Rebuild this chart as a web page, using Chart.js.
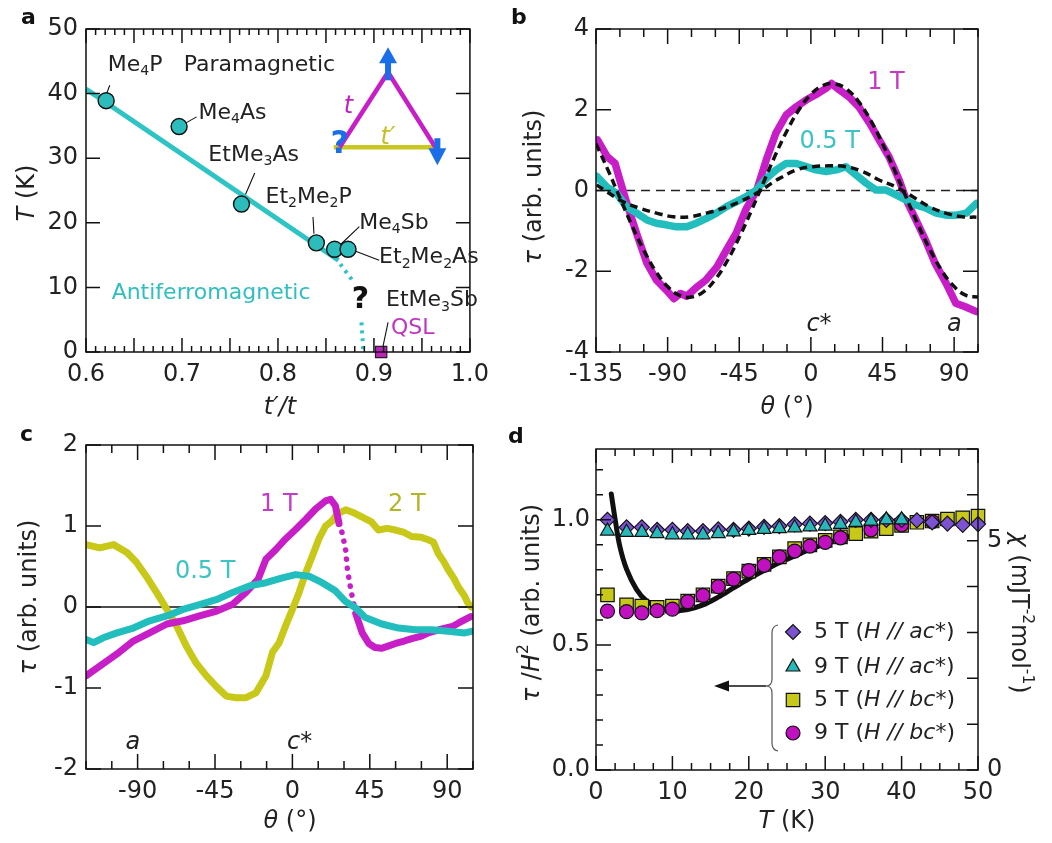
<!DOCTYPE html>
<html><head><meta charset="utf-8">
<script src="https://cdn.jsdelivr.net/npm/chart.js@4.4.0/dist/chart.umd.min.js"></script>
<style>
html,body{margin:0;padding:0;background:#fff;}
body{width:1052px;height:843px;position:relative;overflow:hidden;}
canvas{position:absolute;}
</style></head><body>
<canvas id="ca" width="500" height="421" style="left:0;top:0"></canvas>
<canvas id="cb" width="552" height="421" style="left:500px;top:0"></canvas>
<canvas id="cc" width="500" height="422" style="left:0;top:421px"></canvas>
<canvas id="cd" width="552" height="422" style="left:500px;top:421px"></canvas>
<script>
// ================= DATA =================
// Panel a : phase diagram
const aSaltNames = ['Me_{4}P', 'Me_{4}As', 'EtMe_{3}As', 'Et_{2}Me_{2}P', 'Me_{4}Sb', 'Et_{2}Me_{2}As'];
const aRatio = [0.621, 0.697, 0.762, 0.840, 0.859, 0.873];
const aTN = [38.9, 34.9, 22.9, 16.9, 15.9, 15.9];
const aQslRatio = [0.9075];
const aQslT = [0];
const aLineRatio = [0.600, 0.863];
const aLineT = [40.7, 14.2];
const aDot1Ratio = [0.865, 0.878];
const aDot1T = [13.6, 11.0];
const aDot2Ratio = [0.887, 0.889];
const aDot2T = [4.6, 0];
const aXTicks = [0.6, 0.7, 0.8, 0.9, 1.0];
const aYTicks = [0, 10, 20, 30, 40, 50];

// Panel b : torque curves, tau vs theta
const b1Theta = [-134,-128,-123,-120,-115,-109.5,-103,-97,-91,-86,-82,-78,-72,-66,-59,-53,-47,-41,-34,-28,-22,-15.5,-9,-3,3,9.5,13,18,24,30,37,43,49,55.5,60,66,72,78,85,91,97,104];
const b1Tau = [1.25,0.84,0.67,0.26,-0.40,-1.06,-1.80,-2.22,-2.46,-2.68,-2.55,-2.62,-2.40,-2.22,-1.89,-1.47,-1.06,-0.48,0.01,0.76,1.42,1.87,2.08,2.24,2.37,2.53,2.65,2.49,2.32,2.08,1.66,1.25,0.84,0.26,-0.24,-0.73,-1.23,-1.80,-2.30,-2.79,-2.88,-3.0];
const b05Theta = [-134.5,-128.3,-122,-116,-109.5,-103,-97,-91,-84.4,-78,-72,-65.6,-59.4,-53,-47,-40.6,-34.3,-28,-21.8,-15.5,-9.2,-3,3.3,9.6,16,22,28.5,34.8,41,47.3,53.6,60,66,72.5,78.8,85,91.4,97.7,104];
const b05Tau = [0.35,0.09,-0.07,-0.40,-0.56,-0.73,-0.81,-0.85,-0.90,-0.90,-0.81,-0.69,-0.56,-0.40,-0.28,-0.15,0.01,0.30,0.51,0.67,0.67,0.59,0.51,0.47,0.51,0.59,0.38,0.18,0.01,0.01,-0.11,-0.24,-0.36,-0.44,-0.56,-0.61,-0.61,-0.56,-0.32];
const bFit1Theta = [-135,-127.5,-120,-112.5,-105,-97.5,-90,-82.5,-75,-67.5,-60,-52.5,-45,-37.5,-30,-22.5,-15,-7.5,0,7.5,15,22.5,30,37.5,45,52.5,60,67.5,75,82.5,90,97.5,105];
const bFit1Tau = [1.16,0.51,-0.18,-0.86,-1.48,-2.00,-2.38,-2.60,-2.64,-2.51,-2.20,-1.74,-1.16,-0.51,0.18,0.86,1.48,2.00,2.38,2.60,2.64,2.51,2.20,1.74,1.16,0.51,-0.18,-0.86,-1.48,-2.00,-2.38,-2.60,-2.64];
const bFit05Theta = [-134.6,-128.3,-117.9,-107.4,-97,-86.6,-76.1,-65.6,-55.2,-44.8,-34.3,-23.9,-19.7,-9.2,1.2,11.6,22.1,32.5,42.9,53.4,63.8,74.3,84.7,95.1,104];
const bFit05Tau = [0.14,-0.03,-0.28,-0.44,-0.56,-0.65,-0.65,-0.56,-0.44,-0.28,-0.07,0.20,0.30,0.51,0.59,0.61,0.59,0.47,0.26,0.09,-0.15,-0.40,-0.56,-0.65,-0.66];
const bXTicks = [-135, -90, -45, 0, 45, 90];
const bYTicks = [-4, -2, 0, 2, 4];

// Panel c : torque curves at three fields
const c2Theta = [-120,-112,-104,-96,-90.6,-85,-79,-73,-67.4,-61.7,-56,-50,-44.3,-38.5,-32.8,-27,-21.2,-15.4,-11.6,-7.7,-3.9,0,3.9,7.7,11.6,15.4,19.3,23,26,31,36,40.6,46,50,55,60,65,69.4,75,79,82,84.8,88,90.6,94,96.4,100,102,104];
const c2Tau = [0.77,0.73,0.77,0.67,0.55,0.38,0.18,-0.03,-0.23,-0.48,-0.69,-0.85,-0.98,-1.10,-1.12,-1.12,-1.06,-0.85,-0.56,-0.44,-0.23,-0.03,0.18,0.42,0.63,0.84,1.00,1.06,1.15,1.20,1.16,1.11,1.05,0.95,0.97,0.95,0.92,0.87,0.86,0.83,0.80,0.66,0.56,0.46,0.35,0.25,0.14,0.05,0.0];
const c1Theta = [-120,-112,-102,-92.5,-83,-73,-63.6,-54,-44,-35,-27,-20,-15.4,-9.6,-4,2,7.7,13.5,19.3,22.2,25,27.1,29,31,32,34,36.8,40.6,44.4,48,52,56,60,65,69.4,75,79,84,88.7,93,96.4,100,103.5];
const c1Tau = [-0.85,-0.73,-0.58,-0.42,-0.32,-0.21,-0.17,-0.11,-0.05,0.03,0.18,0.34,0.59,0.71,0.84,0.96,1.08,1.21,1.31,1.33,1.25,1.03,0.91,0.70,0.46,0.21,-0.08,-0.32,-0.45,-0.50,-0.51,-0.48,-0.45,-0.42,-0.39,-0.36,-0.32,-0.29,-0.26,-0.24,-0.20,-0.16,-0.12];
const c05Theta = [-120,-115.6,-110,-102,-92.5,-83,-73,-63.6,-54,-44.3,-34.7,-25,-15.4,-5.8,1.9,9.6,17.3,25,30.8,36.6,42.4,52,61.7,71.3,80.9,90.6,100.2,104];
const c05Tau = [-0.40,-0.44,-0.38,-0.32,-0.26,-0.17,-0.11,-0.03,0.03,0.09,0.18,0.26,0.30,0.36,0.40,0.38,0.30,0.20,0.07,-0.01,-0.13,-0.21,-0.26,-0.28,-0.28,-0.30,-0.32,-0.30];
const cXTicks = [-90, -45, 0, 45, 90];
const cYTicks = [-2, -1, 0, 1, 2];

// Panel d : tau/H^2 vs T and chi (right axis)
const dT = [1.5,4,6,8,10,12,14,16,18,20,22,24,26,28,30,32,34,36,38,40,42,44,46,48,50];
const d5ac = [1.00,0.97,0.97,0.96,0.96,0.955,0.955,0.962,0.96,0.965,0.972,0.975,0.982,0.985,0.987,0.992,1.0,1.0,1.0,1.0,0.998,0.99,0.985,0.98,0.983];
const d9ac = [0.955,0.95,0.95,0.945,0.94,0.94,0.94,0.945,0.952,0.958,0.962,0.965,0.968,0.972,0.975,0.982,0.99,0.995,1.0,1.0,null,null,null,null,null];
const d5bc = [0.70,0.66,0.655,0.65,0.655,0.675,0.70,0.735,0.765,0.795,0.822,0.852,0.885,0.90,0.918,0.932,0.945,0.955,0.965,0.978,0.99,0.995,1.003,1.008,1.015];
const d9bc = [0.635,0.633,0.628,0.637,0.643,0.673,0.698,0.733,0.763,0.797,0.818,0.852,0.875,0.895,0.91,0.928,null,0.96,null,0.98,null,0.993,null,null,null];
const dChiT = [2,2.5,3.1,4,5.3,6.6,8.4,10,12,14,16,18,20,22,24,26,28,30,32,34];
const dChi = [6.02,5.47,4.89,4.38,3.94,3.69,3.54,3.47,3.50,3.60,3.77,3.97,4.17,4.35,4.52,4.67,4.81,4.93,5.04,5.13];
const dXTicks = [0, 10, 20, 30, 40, 50];
const dYTicks = [0, 0.5, 1.0];
const dY2Ticks = [0, 5];
const dLegend = ['5 T (~H // ac*~)', '9 T (~H // ac*~)', '5 T (~H // bc*~)', '9 T (~H // bc*~)'];

// ================= STYLE / HELPERS =================
const FONT = '"DejaVu Sans", "Liberation Sans", Arial, sans-serif';
const MAG = '#c81ec8', CYA = '#22bdbd', YEL = '#c8c818', PUR = '#7b52d1', BLUE = '#1a6fe8', INK = '#222';
const pts = (xs, ys) => xs.map((x, i) => ({x: x, y: ys[i]}));
const range = (a, b, st) => { const r = []; for (let v = a; v <= b + 1e-9; v += st) r.push(+v.toFixed(6)); return r; };

function parseRich(str) {
  const segs = []; let it = false, buf = '', i = 0;
  const push = (t, m) => { if (t) segs.push({t: t, i: it, m: m}); };
  while (i < str.length) {
    const c = str[i];
    if (c === '~') { push(buf); buf = ''; it = !it; i++; }
    else if ((c === '_' || c === '^') && str[i + 1] === '{') {
      push(buf); buf = ''; const j = str.indexOf('}', i); push(str.slice(i + 2, j), c); i = j + 1;
    } else { buf += c; i++; }
  }
  push(buf); return segs;
}
function drawRich(ctx, x, y, str, o) {
  o = o || {};
  const size = o.size || 24, segs = parseRich(str);
  const font = s => (s.i ? 'italic ' : '') + (o.bold ? 'bold ' : '') + (s.m ? size * 0.64 : size).toFixed(1) + 'px ' + FONT;
  ctx.save(); ctx.translate(x, y); if (o.rot) ctx.rotate(o.rot);
  ctx.fillStyle = o.color || INK; ctx.textBaseline = 'middle'; ctx.textAlign = 'left';
  let w = 0; segs.forEach(s => { ctx.font = font(s); s.w = ctx.measureText(s.t).width; w += s.w; });
  let cx = o.align === 'center' ? -w / 2 : (o.align === 'right' ? -w : 0);
  segs.forEach(s => {
    ctx.font = font(s);
    const dy = s.m === '_' ? size * 0.3 : (s.m === '^' ? -size * 0.36 : 0);
    ctx.fillText(s.t, cx, dy); cx += s.w;
  });
  ctx.restore();
}

function scaleCfg(pos, min, max, ticks, fmt, fit, pad, extra) {
  return Object.assign({
    type: 'linear', position: pos, min: min, max: max,
    grid: {display: false, drawTicks: false}, border: {display: false},
    ticks: {color: INK, font: {family: FONT, size: 24, lineHeight: 1}, padding: pad, autoSkip: false, maxRotation: 0, minRotation: 0, callback: v => fmt(v)},
    afterBuildTicks: s => { s.ticks = ticks.map(v => ({value: v})); },
    afterFit: s => { if (pos === 'bottom' || pos === 'top') s.height = fit; else s.width = fit; }
  }, extra || {});
}
function baseOptions(pad, scales) {
  return {responsive: false, animation: false, events: [], layout: {padding: pad},
    plugins: {legend: {display: false}, tooltip: {enabled: false}}, scales: scales};
}
// frame + inward tick marks drawn from the chart's own scales
function framePlugin(spec) {
  return {id: 'frameTicks', afterDatasetsDraw(chart) {
    const ctx = chart.ctx, ca = chart.chartArea;
    ctx.save(); ctx.strokeStyle = '#111'; ctx.lineWidth = 1.5;
    ctx.strokeRect(ca.left, ca.top, ca.right - ca.left, ca.bottom - ca.top);
    ctx.beginPath();
    for (const t of spec) {
      const s = chart.scales[t.s];
      for (const v of t.v) {
        const p = s.getPixelForValue(v);
        if (s.isHorizontal()) {
          if (t.sides.includes('b')) { ctx.moveTo(p, ca.bottom); ctx.lineTo(p, ca.bottom - t.len); }
          if (t.sides.includes('t')) { ctx.moveTo(p, ca.top); ctx.lineTo(p, ca.top + t.len); }
        } else {
          if (t.sides.includes('l')) { ctx.moveTo(ca.left, p); ctx.lineTo(ca.left + t.len, p); }
          if (t.sides.includes('r')) { ctx.moveTo(ca.right, p); ctx.lineTo(ca.right - t.len, p); }
        }
      }
    }
    ctx.stroke(); ctx.restore();
  }};
}
// text placed in data coordinates
function labelPlugin(list, id) {
  return {id: id || 'labels', afterDatasetsDraw(chart) {
    const ctx = chart.ctx;
    for (const L of list) {
      const x = chart.scales[L.xs || 'x'].getPixelForValue(L.x), y = chart.scales[L.ys || 'y'].getPixelForValue(L.y);
      drawRich(ctx, x, y, L.t, L);
    }
  }};
}
// titles / panel letters in canvas coordinates
function titlePlugin(list) {
  return {id: 'titles', afterDraw(chart) { for (const L of list) drawRich(chart.ctx, L.x, L.y, L.t, L); }};
}
const lineDs = (data, color, w, extra) => Object.assign({data: data, showLine: true, borderColor: color, borderWidth: w, pointRadius: 0, fill: false, tension: 0, borderJoinStyle: 'round', borderCapStyle: 'round'}, extra || {});

// ================= PANEL A =================
(function () {
  const ann = [
    {t: aSaltNames[0], x: 0.6226, y: 44.4, size: 22},
    {t: 'Paramagnetic', x: 0.7018, y: 44.4, size: 22},
    {t: aSaltNames[1], x: 0.7172, y: 37.0, size: 22},
    {t: aSaltNames[2], x: 0.7275, y: 30.5, size: 22},
    {t: aSaltNames[3], x: 0.7871, y: 24.0, size: 22},
    {t: aSaltNames[4], x: 0.8848, y: 20.0, size: 22},
    {t: aSaltNames[5], x: 0.9054, y: 14.6, size: 22},
    {t: '?', x: 0.8860, y: 8.0, size: 30, bold: true, align: 'center', color: '#111'},
    {t: 'EtMe_{3}Sb', x: 0.9126, y: 8.0, size: 22},
    {t: 'QSL', x: 0.9177, y: 3.7, size: 22, color: '#c233c2'},
    {t: 'Antiferromagnetic', x: 0.6267, y: 9.1, size: 22, color: '#2fbfbf'},
    {t: '~t~', x: 0.8735, y: 38.0, size: 24, color: '#c020c0', align: 'center'},
    {t: '~t′~', x: 0.9147, y: 33.1, size: 24, color: '#c0c020', align: 'center'},
    {t: '?', x: 0.8643, y: 32.1, size: 32, bold: true, color: BLUE, align: 'center'}
  ];
  const leaders = [[0.6247,41.3,0.6206,39.6],[0.7152,36.4,0.7010,35.2],[0.7758,27.7,0.7656,24.2],[0.8365,20.9,0.8375,18.3],[0.8848,19.4,0.8650,16.6],[0.9054,14.2,0.8810,15.6],[0.9147,4.6,0.9095,0.9]];
  const inset = {id: 'inset', beforeDatasetsDraw(chart) {
    const ctx = chart.ctx, X = chart.scales.x, Y = chart.scales.y;
    ctx.save(); ctx.strokeStyle = '#111'; ctx.lineWidth = 1.1; ctx.beginPath();
    for (const L of leaders) { ctx.moveTo(X.getPixelForValue(L[0]), Y.getPixelForValue(L[1])); ctx.lineTo(X.getPixelForValue(L[2]), Y.getPixelForValue(L[3])); }
    ctx.stroke(); ctx.restore();
  }, afterDatasetsDraw(chart) {
    const ctx = chart.ctx, X = chart.scales.x, Y = chart.scales.y;
    const P = (u, v) => [X.getPixelForValue(u), Y.getPixelForValue(v)];
    const L = P(0.8643, 31.7), T = P(0.9147, 43.3), R = P(0.9640, 31.7), B0 = P(0.8581, 31.7);
    ctx.save();
    ctx.lineWidth = 4.5; ctx.lineCap = 'butt';
    ctx.strokeStyle = '#c8c820'; ctx.beginPath(); ctx.moveTo(B0[0], B0[1]); ctx.lineTo(R[0], R[1]); ctx.stroke();
    ctx.strokeStyle = '#c81ec8'; ctx.lineJoin = 'miter'; ctx.beginPath(); ctx.moveTo(L[0], L[1]); ctx.lineTo(T[0], T[1]); ctx.lineTo(R[0], R[1]); ctx.stroke();
    ctx.fillStyle = BLUE;
    // up arrow on top site
    ctx.fillRect(T[0] - 3, T[1] - 14, 6, 22);
    ctx.beginPath(); ctx.moveTo(T[0], T[1] - 25); ctx.lineTo(T[0] + 9, T[1] - 9); ctx.lineTo(T[0] - 9, T[1] - 9); ctx.closePath(); ctx.fill();
    // down arrow on right site
    const rx = R[0] + 2;
    ctx.fillRect(rx - 3, R[1] - 9, 6, 12);
    ctx.beginPath(); ctx.moveTo(rx, R[1] + 18); ctx.lineTo(rx + 9, R[1] + 1); ctx.lineTo(rx - 9, R[1] + 1); ctx.closePath(); ctx.fill();
    ctx.restore();
  }};
  new Chart(document.getElementById('ca'), {
    type: 'scatter',
    data: {datasets: [
      {data: pts(aRatio, aTN), pointStyle: 'circle', pointRadius: 8, backgroundColor: '#2cbcbc', borderColor: '#111', borderWidth: 1.4, order: 0},
      {data: pts(aQslRatio, aQslT), pointStyle: 'rect', pointRadius: 8, backgroundColor: '#c020c0', borderColor: '#222', borderWidth: 1.2, clip: false, order: 0},
      lineDs(pts(aLineRatio, aLineT), '#2ec4c4', 5, {order: 2, borderCapStyle: 'butt'}),
      lineDs(pts(aDot1Ratio, aDot1T), '#2ec4c4', 4, {order: 2, borderDash: [3, 5], borderCapStyle: 'butt'}),
      lineDs(pts(aDot2Ratio, aDot2T), '#2ec4c4', 4, {order: 2, borderDash: [3, 5], borderCapStyle: 'butt'})
    ]},
    options: baseOptions({left: 0, top: 29, right: 25, bottom: 0}, {
      x: scaleCfg('bottom', 0.6, 1.0, aXTicks, v => v.toFixed(1), 69, 11),
      y: scaleCfg('left', 0, 50, aYTicks, v => String(v), 86, 8)
    }),
    plugins: [inset, framePlugin([
      {s: 'x', v: range(0.6, 1.0, 0.01), len: 6, sides: 'bt'},
      {s: 'x', v: range(0.6, 1.0, 0.05), len: 14, sides: 'bt'},
      {s: 'y', v: aYTicks, len: 14, sides: 'lr'}
    ]), labelPlugin(ann), titlePlugin([
      {t: 'a', x: 21, y: 18, size: 22, bold: true, color: '#111'},
      {t: '~t′/t~', x: 280, y: 408, size: 24, align: 'center'},
      {t: '~T~ (K)', x: 28, y: 193, size: 24, align: 'center', rot: -Math.PI / 2}
    ])]
  });
})();

// ================= PANEL B =================
(function () {
  const zero = {id: 'zero', beforeDatasetsDraw(chart) {
    const ctx = chart.ctx, ca = chart.chartArea, y0 = chart.scales.y.getPixelForValue(0);
    ctx.save(); ctx.strokeStyle = '#222'; ctx.lineWidth = 1.6; ctx.setLineDash([9, 6]);
    ctx.beginPath(); ctx.moveTo(ca.left, y0); ctx.lineTo(ca.right, y0); ctx.stroke(); ctx.restore();
  }};
  new Chart(document.getElementById('cb'), {
    type: 'scatter',
    data: {datasets: [
      lineDs(pts(bFit1Theta, bFit1Tau), '#111', 3.5, {borderDash: [8, 5], borderCapStyle: 'butt', tension: 0.4, order: 0}),
      lineDs(pts(bFit05Theta, bFit05Tau), '#111', 3.5, {borderDash: [8, 5], borderCapStyle: 'butt', tension: 0.4, order: 0}),
      lineDs(pts(b1Theta, b1Tau), MAG, 7.5, {order: 2}),
      lineDs(pts(b05Theta, b05Tau), CYA, 7.5, {order: 1})
    ]},
    options: baseOptions({left: 0, top: 29, right: 74, bottom: 0}, {
      x: scaleCfg('bottom', -135, 105, bXTicks, v => String(v), 69, 11),
      y: scaleCfg('left', -4, 4, bYTicks, v => String(v), 96, 7)
    }),
    plugins: [zero, framePlugin([
      {s: 'x', v: range(-135, 105, 15), len: 8, sides: 'bt'},
      {s: 'x', v: bXTicks, len: 15, sides: 'bt'},
      {s: 'y', v: bYTicks, len: 15, sides: 'lr'}
    ]), labelPlugin([
      {t: '1 T', x: 35.4, y: 2.66, size: 24, color: '#c43cc4'},
      {t: '0.5 T', x: -7.2, y: 1.20, size: 24, color: '#3cc4c4'},
      {t: '~c*~', x: -2.8, y: -3.33, size: 24},
      {t: '~a~', x: 85.5, y: -3.33, size: 24}
    ]), titlePlugin([
      {t: 'b', x: 11, y: 18, size: 22, bold: true, color: '#111'},
      {t: '~θ~ (°)', x: 287, y: 408, size: 24, align: 'center'},
      {t: '~τ~ (arb. units)', x: 35, y: 187, size: 24, align: 'center', rot: -Math.PI / 2}
    ])]
  });
})();

// ================= PANEL C =================
(function () {
  const zero = {id: 'zero', beforeDatasetsDraw(chart) {
    const ctx = chart.ctx, ca = chart.chartArea, y0 = chart.scales.y.getPixelForValue(0);
    ctx.save(); ctx.strokeStyle = '#111'; ctx.lineWidth = 1.5;
    ctx.beginPath(); ctx.moveTo(ca.left, y0); ctx.lineTo(ca.right, y0); ctx.stroke(); ctx.restore();
  }};
  new Chart(document.getElementById('cc'), {
    type: 'scatter',
    data: {datasets: [
      lineDs(pts(c05Theta, c05Tau), CYA, 7, {order: 0}),
      lineDs(pts(c1Theta, c1Tau), MAG, 7, {order: 1,
        segment: {
          borderDash: ctx => (ctx.p0.parsed.x >= 27 && ctx.p1.parsed.x <= 37) ? [0.1, 9] : undefined,
          borderWidth: ctx => (ctx.p0.parsed.x >= 27 && ctx.p1.parsed.x <= 37) ? 5.5 : undefined
        }}),
      lineDs(pts(c2Theta, c2Tau), YEL, 7, {order: 2})
    ]},
    options: baseOptions({left: 0, top: 24, right: 27, bottom: 0}, {
      x: scaleCfg('bottom', -120, 105, cXTicks, v => String(v), 74, 11),
      y: scaleCfg('left', -2, 2, cYTicks, v => String(v), 86, 8)
    }),
    plugins: [zero, framePlugin([
      {s: 'x', v: range(-120, 105, 15), len: 8, sides: 'bt'},
      {s: 'x', v: cXTicks, len: 15, sides: 'bt'},
      {s: 'y', v: cYTicks, len: 15, sides: 'lr'}
    ]), labelPlugin([
      {t: '1 T', x: -18.8, y: 1.26, size: 24, color: '#c43cc4'},
      {t: '2 T', x: 55.6, y: 1.26, size: 24, color: '#b4b428'},
      {t: '0.5 T', x: -68.3, y: 0.43, size: 24, color: '#3cc4c4'},
      {t: '~a~', x: -92.7, y: -1.67, size: 24, align: 'center'},
      {t: '~c*~', x: -3.1, y: -1.67, size: 24}
    ]), titlePlugin([
      {t: 'c', x: 20, y: 14, size: 22, bold: true, color: '#111'},
      {t: '~θ~ (°)', x: 290, y: 401, size: 24, align: 'center'},
      {t: '~τ~ (arb. units)', x: 30, y: 176, size: 24, align: 'center', rot: -Math.PI / 2}
    ])]
  });
})();

// ================= PANEL D =================
(function () {
  const mk = (ys, style, r, color, order) => ({data: pts(dT, ys), pointStyle: style, pointRadius: r, backgroundColor: color, borderColor: '#111', borderWidth: 1.2, clip: false, order: order});
  const styles = [['rectRot', 7.5, PUR], ['triangle', 8, '#28b8b8'], ['rect', 9.5, YEL], ['circle', 7, '#c010c0']];
  const legend = {id: 'dLegend', afterDraw(chart) {
    const ctx = chart.ctx, rows = [211, 246, 279, 312];
    ctx.save();
    rows.forEach((y, i) => {
      ctx.fillStyle = styles[i][2]; ctx.strokeStyle = '#111'; ctx.lineWidth = 1.2;
      Chart.helpers.drawPoint(ctx, {pointStyle: styles[i][0], radius: styles[i][1], borderWidth: 1.2, rotation: 0}, 293, y);
      drawRich(ctx, 314, y, dLegend[i], {size: 22});
    });
    // bracket and arrow
    ctx.strokeStyle = '#555'; ctx.lineWidth = 1.2;
    ctx.beginPath();
    ctx.moveTo(278, 204); ctx.quadraticCurveTo(272, 205, 272, 212);
    ctx.lineTo(272, 258); ctx.quadraticCurveTo(272, 265, 266, 265);
    ctx.quadraticCurveTo(272, 265, 272, 272);
    ctx.lineTo(272, 322); ctx.quadraticCurveTo(272, 329, 278, 330);
    ctx.stroke();
    ctx.strokeStyle = '#111'; ctx.lineWidth = 1.3;
    ctx.beginPath(); ctx.moveTo(266, 265); ctx.lineTo(226, 265); ctx.stroke();
    ctx.fillStyle = '#111'; ctx.beginPath(); ctx.moveTo(214, 265); ctx.lineTo(229, 259.5); ctx.lineTo(229, 270.5); ctx.closePath(); ctx.fill();
    ctx.restore();
  }};
  new Chart(document.getElementById('cd'), {
    type: 'scatter',
    data: {datasets: [
      mk(d9ac, 'triangle', 8, '#28b8b8', 0),
      mk(d5ac, 'rectRot', 7.5, PUR, 1),
      mk(d9bc, 'circle', 7, '#c010c0', 2),
      mk(d5bc, 'rect', 9.5, YEL, 3),
      lineDs(pts(dChiT, dChi), '#111', 5, {yAxisID: 'y2', tension: 0.35, order: 5})
    ]},
    options: baseOptions({left: 0, top: 28, right: 0, bottom: 0}, {
      x: scaleCfg('bottom', 0, 50, dXTicks, v => String(v), 73, 11),
      y: scaleCfg('left', 0, 1.283, dYTicks, v => v.toFixed(1), 96, 6),
      y2: scaleCfg('right', 0, 7, dY2Ticks, v => String(v), 74, 9)
    }),
    plugins: [framePlugin([
      {s: 'x', v: range(0, 50, 2.5), len: 7, sides: 'bt'},
      {s: 'x', v: dXTicks, len: 14, sides: 'bt'},
      {s: 'y', v: range(0, 1.2, 0.1), len: 7, sides: 'l'},
      {s: 'y', v: dYTicks, len: 15, sides: 'l'},
      {s: 'y2', v: range(0, 7, 1), len: 11, sides: 'r'}
    ]), legend, titlePlugin([
      {t: 'd', x: 8, y: 16, size: 22, bold: true, color: '#111'},
      {t: '~T~ (K)', x: 287, y: 401, size: 24, align: 'center'},
      {t: '~τ~ /~H~^{2} (arb. units)', x: 33, y: 182, size: 24, align: 'center', rot: -Math.PI / 2},
      {t: '~χ~ (mJT^{-2}mol^{-1})', x: 518, y: 192, size: 24, align: 'center', rot: Math.PI / 2}
    ])]
  });
})();
</script>
</body></html>
